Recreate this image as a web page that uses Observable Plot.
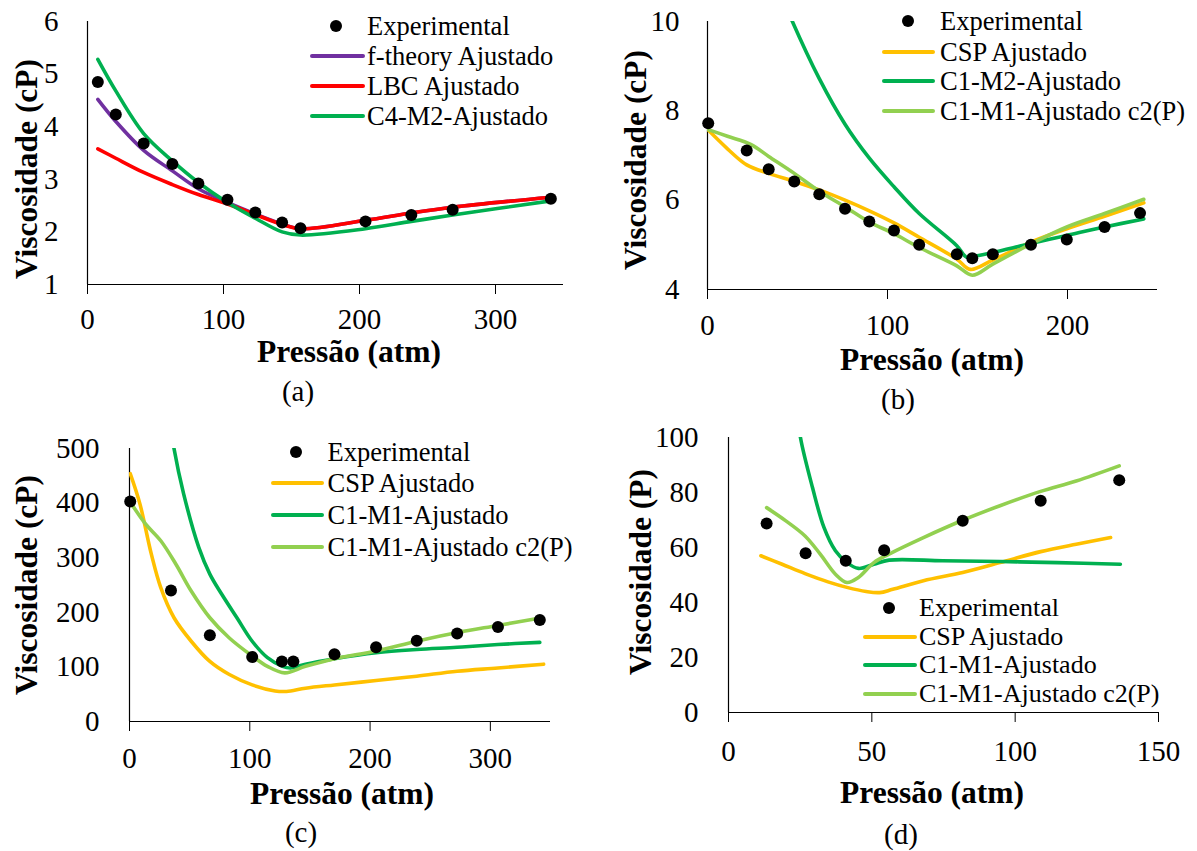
<!DOCTYPE html>
<html>
<head>
<meta charset="utf-8">
<script src="https://cdn.jsdelivr.net/npm/d3@7"></script>
<script src="https://cdn.jsdelivr.net/npm/@observablehq/plot@0.6"></script>
<style>
  body { margin: 0; background: #fff; }
  #root { position: relative; width: 1197px; height: 851px; background: #fff; font-family: 'Liberation Serif', 'Times New Roman', serif; color: #000; overflow: hidden; }
  .t { position: absolute; white-space: nowrap; line-height: 1; }
</style>
</head>
<body>
<div id="root"></div>
<script>
// ---------- Panel (a) ----------
const aExpP = [7.6, 20.8, 41.3, 62.4, 81.5, 102.9, 123.4, 143.1, 156.6, 204.4, 238.1, 268.5, 340.7];
const aExpV = [4.85, 4.23, 3.68, 3.29, 2.92, 2.61, 2.37, 2.18, 2.07, 2.20, 2.32, 2.42, 2.63];
const aModelP = [7.6, 20.8, 41.3, 62.4, 81.5, 102.9, 123.4, 143.1, 156.6, 204.4, 238.1, 268.5, 340.7];
const aFtheoryV = [4.52, 4.10, 3.55, 3.16, 2.82, 2.56, 2.34, 2.15, 2.06, 2.22, 2.36, 2.47, 2.66];
const aLbcV = [3.58, 3.40, 3.13, 2.90, 2.71, 2.53, 2.33, 2.14, 2.06, 2.22, 2.36, 2.47, 2.66];
const aC4m2V = [5.28, 4.68, 3.87, 3.35, 2.94, 2.56, 2.26, 2.00, 1.94, 2.06, 2.20, 2.32, 2.59];
const aXDomain = [0, 350], aXTicks = [0, 100, 200, 300];
const aYDomain = [1, 6], aYTicks = [1, 2, 3, 4, 5, 6];
const aLabels = ["Experimental", "f-theory Ajustado", "LBC Ajustado", "C4-M2-Ajustado"];

// ---------- Panel (b) ----------
const bExpP = [0.4, 21.8, 34.0, 48.2, 62.1, 76.4, 89.9, 103.6, 117.6, 138.5, 147.1, 158.5, 179.7, 199.6, 220.6, 240.3];
const bExpV = [7.72, 7.11, 6.69, 6.42, 6.13, 5.81, 5.52, 5.32, 5.00, 4.79, 4.70, 4.79, 5.00, 5.12, 5.40, 5.71];
const bCspP = [0.4, 11.1, 21.8, 34.0, 48.2, 62.1, 76.4, 89.9, 103.6, 117.6, 138.5, 146.0, 158.5, 179.7, 199.6, 220.6, 242.4];
const bCspV = [7.57, 7.15, 6.79, 6.60, 6.42, 6.23, 6.00, 5.76, 5.49, 5.17, 4.68, 4.45, 4.66, 5.06, 5.36, 5.64, 5.94];
const bC1m2P = [40.0, 46.5, 62.1, 76.4, 89.9, 103.6, 117.6, 138.5, 144.0, 149.0, 158.5, 179.7, 199.6, 220.6, 242.4];
const bC1m2V = [10.7, 10.06, 8.72, 7.70, 6.94, 6.30, 5.70, 4.98, 4.72, 4.75, 4.83, 5.03, 5.21, 5.40, 5.58];
const bC2P = [0.4, 11.1, 24.0, 34.0, 48.2, 62.1, 76.4, 89.9, 103.6, 117.6, 138.5, 147.1, 158.5, 179.7, 199.6, 220.6, 242.4];
const bC2V = [7.58, 7.43, 7.25, 6.98, 6.60, 6.20, 5.85, 5.51, 5.25, 4.94, 4.53, 4.32, 4.57, 5.02, 5.40, 5.70, 6.02];
const bXDomain = [0, 250], bXTicks = [0, 100, 200];
const bYDomain = [4, 10], bYTicks = [4, 6, 8, 10];
const bLabels = ["Experimental", "CSP Ajustado", "C1-M2-Ajustado", "C1-M1-Ajustado c2(P)"];

// ---------- Panel (c) ----------
const cExpP = [0.6, 34.5, 66.8, 102.0, 126.7, 136.2, 170.4, 205.0, 238.8, 272.4, 306.3, 341.1];
const cExpV = [403, 240, 158, 118, 110, 110, 123, 136, 148, 161, 173, 186];
const cCspP = [0.6, 8.6, 18.1, 26.0, 37.0, 51.3, 66.8, 83.0, 102.0, 121.0, 130.5, 146.3, 170.4, 205.0, 238.8, 272.4, 306.3, 344.3];
const cCspV = [454, 399, 307, 245, 190, 147, 110, 86, 67, 56, 55, 61, 67, 75, 83, 92, 98, 105];
const cC1m1P = [33.0, 37.0, 45.0, 57.6, 66.8, 76.7, 89.3, 102.0, 114.7, 127.3, 133.7, 146.3, 170.4, 205.0, 238.8, 272.4, 306.3, 341.1];
const cC1m1V = [560, 500, 417, 319, 270, 233, 190, 147, 117, 101, 98, 105, 115, 126, 132, 136, 141, 145];
const cC2P = [0.6, 13.3, 26.0, 38.6, 51.3, 66.8, 83.0, 102.0, 114.7, 129.0, 146.3, 170.4, 205.0, 238.8, 272.4, 306.3, 342.7];
const cC2V = [402, 362, 331, 288, 239, 190, 153, 120, 101, 89, 101, 115, 129, 147, 163, 176, 190];
const cXDomain = [0, 350], cXTicks = [0, 100, 200, 300];
const cYDomain = [0, 500], cYTicks = [0, 100, 200, 300, 400, 500];
const cLabels = ["Experimental", "CSP Ajustado", "C1-M1-Ajustado", "C1-M1-Ajustado c2(P)"];

// ---------- Panel (d) ----------
const dExpP = [13.3, 26.9, 40.9, 54.3, 81.7, 108.9, 136.3];
const dExpV = [68.7, 57.9, 55.2, 59.0, 69.7, 77.0, 84.5];
const dCspP = [11.3, 18.7, 26.7, 34.7, 41.3, 48.0, 52.7, 57.3, 68.0, 81.7, 94.7, 108.9, 121.3, 133.3];
const dCspV = [57.0, 53.9, 50.5, 47.5, 45.5, 44.0, 43.6, 44.8, 47.9, 50.9, 54.5, 58.5, 61.2, 63.6];
const dC1m1P = [24.0, 25.1, 29.3, 33.3, 37.3, 41.3, 45.3, 50.7, 56.0, 74.7, 94.7, 114.7, 136.7];
const dC1m1V = [110, 100, 81.8, 67.3, 58.8, 54.5, 52.4, 53.9, 55.4, 55.2, 54.9, 54.5, 53.9];
const dC2P = [13.3, 20.0, 26.7, 32.0, 37.3, 41.3, 45.3, 50.7, 56.0, 68.0, 81.7, 94.7, 108.9, 121.3, 136.3];
const dC2V = [74.5, 69.7, 64.2, 57.6, 50.3, 47.3, 49.1, 54.5, 57.6, 63.6, 69.9, 75.2, 80.4, 84.2, 89.7];
const dXDomain = [0, 150], dXTicks = [0, 50, 100, 150];
const dYDomain = [0, 100], dYTicks = [0, 20, 40, 60, 80, 100];
const dLabels = ["Experimental", "CSP Ajustado", "C1-M1-Ajustado", "C1-M1-Ajustado c2(P)"];

// ---------- colours ----------
const PURPLE = "#7030A0", RED = "#FF0000", GREEN = "#00B050", ORANGE = "#FFC000", LIGHT = "#92D050";
const FONT = "'Liberation Serif', 'Times New Roman', serif";

const root = document.getElementById("root");
const rows = (ps, vs) => ps.map((p, i) => ({p, v: vs[i]}));
const fmt = d => String(d);

function panel(cfg) {
  const marks = [
    Plot.ruleY([cfg.yDomain[0]], {stroke: "#000", strokeWidth: 1.2}),
    Plot.ruleX([cfg.xDomain[0]], {stroke: "#000", strokeWidth: 1.2})
  ];
  for (const s of cfg.series) {
    marks.push(Plot.line(rows(s.p, s.v), {x: "p", y: "v", stroke: s.color, strokeWidth: 3.6, curve: "catmull-rom", clip: true, strokeLinecap: "round"}));
  }
  marks.push(Plot.dot(rows(cfg.expP, cfg.expV), {x: "p", y: "v", r: 6, fill: "#000", stroke: "none"}));
  const svg = Plot.plot({
    width: cfg.width, height: cfg.height,
    marginLeft: cfg.m[0], marginRight: cfg.m[1], marginTop: cfg.m[2], marginBottom: cfg.m[3],
    x: {domain: cfg.xDomain, ticks: cfg.xTicks, tickFormat: fmt, tickSize: 10, tickPadding: cfg.xPad, label: null},
    y: {domain: cfg.yDomain, ticks: cfg.yTicks, tickFormat: fmt, tickSize: 0, tickPadding: cfg.yPad, label: null},
    style: {position: "absolute", left: cfg.left + "px", top: cfg.top + "px", fontFamily: FONT, fontSize: "29px", color: "#000", background: "none", overflow: "visible"},
    marks
  });
  root.appendChild(svg);
}

function text(str, x, y, size, bold, rotate) {
  const d = document.createElement("div");
  d.className = "t";
  d.textContent = str;
  d.style.left = x + "px";
  d.style.top = y + "px";
  d.style.fontSize = size + "px";
  d.style.lineHeight = "0.6";
  d.style.fontWeight = bold ? "bold" : "normal";
  d.style.transform = "translate(-50%,-50%)" + (rotate ? " rotate(-90deg)" : "");
  root.appendChild(d);
}

function legend(labels, colors, lx1, lx2, dotX, textX, ys, size) {
  labels.forEach((lab, i) => {
    const y = ys[i];
    if (colors[i] === null) {
      const dot = document.createElement("div");
      dot.style.cssText = `position:absolute;left:${dotX - 6}px;top:${y - 6}px;width:12px;height:12px;border-radius:50%;background:#000;`;
      root.appendChild(dot);
    } else {
      const ln = document.createElement("div");
      ln.style.cssText = `position:absolute;left:${lx1}px;top:${y - 2}px;width:${lx2 - lx1}px;height:4px;border-radius:2px;background:${colors[i]};`;
      root.appendChild(ln);
    }
    const t = document.createElement("div");
    t.className = "t";
    t.textContent = lab;
    t.style.left = textX + "px";
    t.style.top = y + "px";
    t.style.fontSize = size + "px";
    t.style.lineHeight = "0.85";
    t.style.transform = "translateY(-50%)";
    root.appendChild(t);
  });
}

// (a)
panel({left: 0, top: 0, width: 598, height: 420, m: [87, 35, 21, 136],
  xDomain: aXDomain, xTicks: aXTicks, yDomain: aYDomain, yTicks: aYTicks, xPad: 14, yPad: 29,
  series: [{p: aModelP, v: aFtheoryV, color: PURPLE}, {p: aModelP, v: aLbcV, color: RED}, {p: aModelP, v: aC4m2V, color: GREEN}],
  expP: aExpP, expV: aExpV});
// (b)
panel({left: 598, top: 0, width: 599, height: 420, m: [109, 40, 21, 131],
  xDomain: bXDomain, xTicks: bXTicks, yDomain: bYDomain, yTicks: bYTicks, xPad: 15, yPad: 28,
  series: [{p: bCspP, v: bCspV, color: ORANGE}, {p: bC1m2P, v: bC1m2V, color: GREEN}, {p: bC2P, v: bC2V, color: LIGHT}],
  expP: bExpP, expV: bExpV});
// (c)
panel({left: 0, top: 420, width: 598, height: 431, m: [129, 48, 28, 130],
  xDomain: cXDomain, xTicks: cXTicks, yDomain: cYDomain, yTicks: cYTicks, xPad: 16, yPad: 30,
  series: [{p: cCspP, v: cCspV, color: ORANGE}, {p: cC1m1P, v: cC1m1V, color: GREEN}, {p: cC2P, v: cC2V, color: LIGHT}],
  expP: cExpP, expV: cExpV});
// (d)
panel({left: 598, top: 420, width: 599, height: 431, m: [130, 39, 17, 139],
  xDomain: dXDomain, xTicks: dXTicks, yDomain: dYDomain, yTicks: dYTicks, xPad: 17.5, yPad: 30,
  series: [{p: dCspP, v: dCspV, color: ORANGE}, {p: dC1m1P, v: dC1m1V, color: GREEN}, {p: dC2P, v: dC2V, color: LIGHT}],
  expP: dExpP, expV: dExpV});

// axis titles and panel labels
const TS = 31.5;
text("Pressão (atm)", 349, 352, TS, true, false);
text("Viscosidade (cP)", 26.5, 169, TS, true, true);
text("(a)", 298, 392, 29, false, false);

text("Pressão (atm)", 932, 360, TS, true, false);
text("Viscosidade (cP)", 636, 160, TS, true, true);
text("(b)", 898, 400, 29, false, false);

text("Pressão (atm)", 342, 794, TS, true, false);
text("Viscosidade (cP)", 27, 585, TS, true, true);
text("(c)", 301, 833, 29, false, false);

text("Pressão (atm)", 932, 793, TS, true, false);
text("Viscosidade (P)", 641, 572, TS, true, true);
text("(d)", 901, 835, 29, false, false);

// legends
const LS = 26.5;
legend(aLabels, [null, PURPLE, RED, GREEN], 310, 365, 335.7, 367, [26, 56, 86, 116], LS);
legend(bLabels, [null, ORANGE, GREEN, LIGHT], 882, 935, 908.3, 940, [20.7, 51.7, 81, 111], LS);
legend(cLabels, [null, ORANGE, GREEN, LIGHT], 271, 324, 296, 327.5, [452.3, 483.3, 515, 546.7], LS);
legend(dLabels, [null, ORANGE, GREEN, LIGHT], 862.7, 916.7, 889.3, 919, [608, 636.5, 665, 693.5], 26);
</script>
</body>
</html>
